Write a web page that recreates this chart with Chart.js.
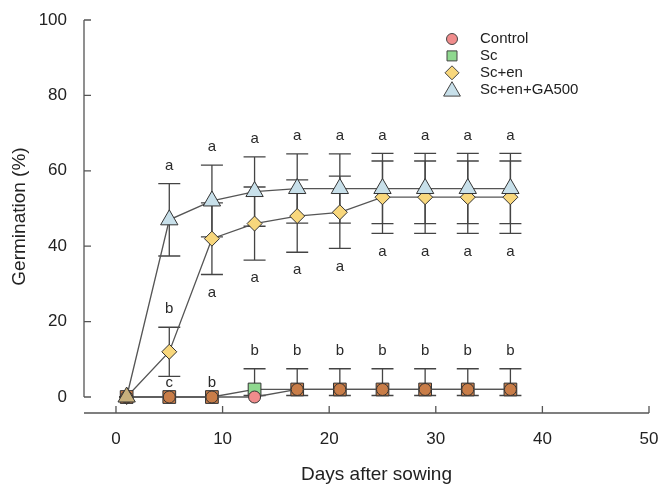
<!DOCTYPE html>
<html>
<head>
<meta charset="utf-8">
<script src="https://cdn.jsdelivr.net/npm/chart.js@4.4.1/dist/chart.umd.min.js"></script>
<style>
  body { margin: 0; background: #fff; }
  #wrap { width: 660px; height: 484px; position: relative; }
</style>
</head>
<body>
<div id="wrap"><canvas id="germChart"></canvas></div>
<script>
// values
const days = [1, 5, 9, 13, 17, 21, 25, 29, 33, 37];
const control = [0, 0, 0, 0, 2, 2, 2, 2, 2, 2];
const sc = [0, 0, 0, 2, 2, 2, 2, 2, 2, 2];
const scErrUp = [0, 0, 0, 5.5, 5.5, 5.5, 5.5, 5.5, 5.5, 5.5];
const scErrDown = [0, 0, 0, 1.6, 1.6, 1.6, 1.6, 1.6, 1.6, 1.6];
const scEn = [0, 12, 42, 46, 48, 49, 53, 53, 53, 53];
const scEnErr = [0, 6.5, 9.5, 9.7, 9.6, 9.6, 9.6, 9.6, 9.6, 9.6];
const scEnGa = [0, 47, 52, 54.5, 55.3, 55.3, 55.3, 55.3, 55.3, 55.3];
const scEnGaErr = [0, 9.6, 9.5, 9.2, 9.2, 9.2, 9.3, 9.3, 9.3, 9.3];

const gaLetters = ['', 'a', 'a', 'a', 'a', 'a', 'a', 'a', 'a', 'a'];
const enLetters = ['', 'b', 'a', 'a', 'a', 'a', 'a', 'a', 'a', 'a'];
const scLetters = ['', 'c', 'b', 'b', 'b', 'b', 'b', 'b', 'b', 'b'];

const xTicks = [0, 10, 20, 30, 40, 50];
const yTicks = [0, 20, 40, 60, 80, 100];

const FONT = '"Liberation Sans", Arial, Helvetica, sans-serif';
const INK = '#222';
const LINE = '#555';

const colors = {
    control: '#f08c8c',
    sc: '#8fd88f',
    en: '#f8d77c',
    ga: '#c8e0ea',
    overlap: '#c97d48',   // Control + Sc markers on top of each other
    allSame: '#c8b07c'    // all four markers on top of each other
};

function pts(vals) {
    return days.map((d, i) => ({x: d, y: vals[i]}));
}

// axis lines with inward ticks, y axis only spans 0..100
const axesPlugin = {
    id: 'axesPlugin',
    beforeDatasetsDraw(chart) {
        const {ctx, chartArea, scales: {x, y}} = chart;
        ctx.save();
        ctx.strokeStyle = LINE;
        ctx.lineWidth = 1.3;
        ctx.beginPath();
        const ax = chartArea.left;
        ctx.moveTo(ax, y.getPixelForValue(yTicks[0]));
        ctx.lineTo(ax, y.getPixelForValue(yTicks[yTicks.length - 1]));
        yTicks.forEach(v => {
            const py = y.getPixelForValue(v);
            ctx.moveTo(ax, py);
            ctx.lineTo(ax + 7, py);
        });
        const by = chartArea.bottom;
        ctx.moveTo(chartArea.left, by);
        ctx.lineTo(chartArea.right, by);
        xTicks.forEach(v => {
            const px = x.getPixelForValue(v);
            ctx.moveTo(px, by);
            ctx.lineTo(px, by - 7);
        });
        ctx.stroke();

        // x title sits a little right of the axis centre in the figure
        ctx.fillStyle = INK;
        ctx.font = '19px ' + FONT;
        ctx.textAlign = 'center';
        ctx.textBaseline = 'middle';
        ctx.fillText('Days after sowing', (chartArea.left + chartArea.right) / 2 + 10, 475);
        ctx.restore();
    }
};

const errorBars = {
    id: 'errorBars',
    beforeDatasetsDraw(chart) {
        const {ctx, scales: {x, y}} = chart;
        ctx.save();
        ctx.strokeStyle = '#444';
        ctx.lineWidth = 1.3;
        const bar = (d, lo, hi) => {
            const px = x.getPixelForValue(d);
            const top = y.getPixelForValue(hi);
            const bot = y.getPixelForValue(lo);
            ctx.beginPath();
            ctx.moveTo(px, top); ctx.lineTo(px, bot);
            ctx.moveTo(px - 11, top); ctx.lineTo(px + 11, top);
            ctx.moveTo(px - 11, bot); ctx.lineTo(px + 11, bot);
            ctx.stroke();
        };
        days.forEach((d, i) => {
            if (scEnGaErr[i]) bar(d, scEnGa[i] - scEnGaErr[i], scEnGa[i] + scEnGaErr[i]);
            if (scEnErr[i]) bar(d, scEn[i] - scEnErr[i], scEn[i] + scEnErr[i]);
            if (scErrUp[i]) bar(d, sc[i] - scErrDown[i], sc[i] + scErrUp[i]);
        });
        ctx.restore();
    },
    afterDatasetsDraw(chart) {
        const {ctx, scales: {x, y}} = chart;
        ctx.save();
        ctx.fillStyle = '#2a2a2a';
        ctx.font = '15px ' + FONT;
        ctx.textAlign = 'center';
        ctx.textBaseline = 'middle';
        days.forEach((d, i) => {
            const px = x.getPixelForValue(d);
            if (gaLetters[i]) {
                ctx.fillText(gaLetters[i], px, y.getPixelForValue(scEnGa[i] + scEnGaErr[i]) - 18);
            }
            if (enLetters[i]) {
                // below the bar when the bar would run into the GA500 bar
                const below = scEn[i] + scEnErr[i] + 10 > scEnGa[i] - scEnGaErr[i];
                const py = below
                    ? y.getPixelForValue(scEn[i] - scEnErr[i]) + 18
                    : y.getPixelForValue(scEn[i] + scEnErr[i]) - 18;
                ctx.fillText(enLetters[i], px, py);
            }
            if (scLetters[i]) {
                const py = scErrUp[i]
                    ? y.getPixelForValue(sc[i] + scErrUp[i]) - 18
                    : y.getPixelForValue(sc[i]) - 14;
                ctx.fillText(scLetters[i], px, py);
            }
        });
        ctx.restore();
    }
};

function marker(ctx, style, fill, cx, cy, r) {
    ctx.save();
    ctx.fillStyle = fill;
    ctx.strokeStyle = '#444';
    ctx.lineWidth = 1;
    ctx.beginPath();
    if (style === 'circle') {
        ctx.arc(cx, cy, r, 0, Math.PI * 2);
    } else if (style === 'rect') {
        ctx.rect(cx - r, cy - r, 2 * r, 2 * r);
    } else if (style === 'rectRot') {
        ctx.moveTo(cx, cy - r); ctx.lineTo(cx + r, cy);
        ctx.lineTo(cx, cy + r); ctx.lineTo(cx - r, cy);
        ctx.closePath();
    } else {
        ctx.moveTo(cx, cy - r); ctx.lineTo(cx + r * 1.05, cy + r * 0.8);
        ctx.lineTo(cx - r * 1.05, cy + r * 0.8);
        ctx.closePath();
    }
    ctx.fill();
    ctx.stroke();
    ctx.restore();
}

const legendPlugin = {
    id: 'legendPlugin',
    afterDraw(chart) {
        const {ctx} = chart;
        const items = [
            ['Control', 'circle', colors.control, 5.5],
            ['Sc', 'rect', colors.sc, 5],
            ['Sc+en', 'rectRot', colors.en, 7],
            ['Sc+en+GA500', 'triangle', colors.ga, 8]
        ];
        ctx.save();
        ctx.font = '15px ' + FONT;
        ctx.textBaseline = 'middle';
        items.forEach((it, k) => {
            const ly = 39 + k * 16.9;
            marker(ctx, it[1], it[2], 452, ly, it[3]);
            ctx.fillStyle = INK;
            ctx.fillText(it[0], 480, ly);
        });
        ctx.restore();
    }
};

document.addEventListener('DOMContentLoaded', () => {

    const canvas = document.getElementById('germChart').getContext('2d');

    const base = {
        borderColor: LINE,
        borderWidth: 1.3,
        pointBorderColor: '#333',
        pointBorderWidth: 1,
        tension: 0,
        fill: false
    };

    new Chart(canvas, {
        type: 'line',
        data: {
            datasets: [
                Object.assign({}, base, {
                    label: 'Control',
                    data: pts(control),
                    order: 1,
                    pointStyle: 'circle',
                    pointRadius: 6,
                    pointBackgroundColor: c => control[c.dataIndex] === sc[c.dataIndex] ? colors.overlap : colors.control
                }),
                Object.assign({}, base, {
                    label: 'Sc',
                    data: pts(sc),
                    order: 2,
                    pointStyle: 'rect',
                    pointRadius: 9,
                    pointBackgroundColor: c => control[c.dataIndex] === sc[c.dataIndex] ? colors.overlap : colors.sc
                }),
                Object.assign({}, base, {
                    label: 'Sc+en',
                    data: pts(scEn),
                    order: 3,
                    pointStyle: 'rectRot',
                    pointRadius: 7.5,
                    pointBackgroundColor: colors.en
                }),
                Object.assign({}, base, {
                    label: 'Sc+en+GA500',
                    data: pts(scEnGa),
                    order: 0,
                    pointStyle: 'triangle',
                    pointRadius: 10,
                    pointBackgroundColor: c => {
                        const i = c.dataIndex;
                        const same = control[i] === sc[i] && sc[i] === scEn[i] && scEn[i] === scEnGa[i];
                        return same ? colors.allSame : colors.ga;
                    }
                })
            ]
        },
        options: {
            responsive: true,
            maintainAspectRatio: false,
            animation: false,
            layout: {padding: {top: 20, right: 11, left: 0, bottom: 0}},
            plugins: {
                legend: {display: false},
                tooltip: {enabled: false}
            },
            scales: {
                x: {
                    type: 'linear',
                    min: -3,
                    max: 50,
                    afterBuildTicks: s => { s.ticks = xTicks.map(v => ({value: v})); },
                    afterFit: s => { s.height = 71; },
                    // the tick marks are drawn by axesPlugin; tickLength only spaces the labels
                    grid: {display: false, drawTicks: true, tickLength: 16},
                    border: {display: false},
                    ticks: {font: {size: 17, family: FONT}, color: INK, padding: 0, maxRotation: 0}
                },
                y: {
                    type: 'linear',
                    min: -4.24,
                    max: 100,
                    afterBuildTicks: s => { s.ticks = yTicks.map(v => ({value: v})); },
                    afterFit: s => { s.width = 84; },
                    grid: {display: false, drawTicks: true, tickLength: 17},
                    border: {display: false},
                    ticks: {font: {size: 17, family: FONT}, color: INK, padding: 0},
                    title: {
                        display: true,
                        text: 'Germination (%)',
                        color: INK,
                        font: {size: 19, family: FONT, lineHeight: 1},
                        padding: {top: 10, bottom: 0}
                    }
                }
            }
        },
        plugins: [axesPlugin, errorBars, legendPlugin]
    });
});
</script>
</body>
</html>
